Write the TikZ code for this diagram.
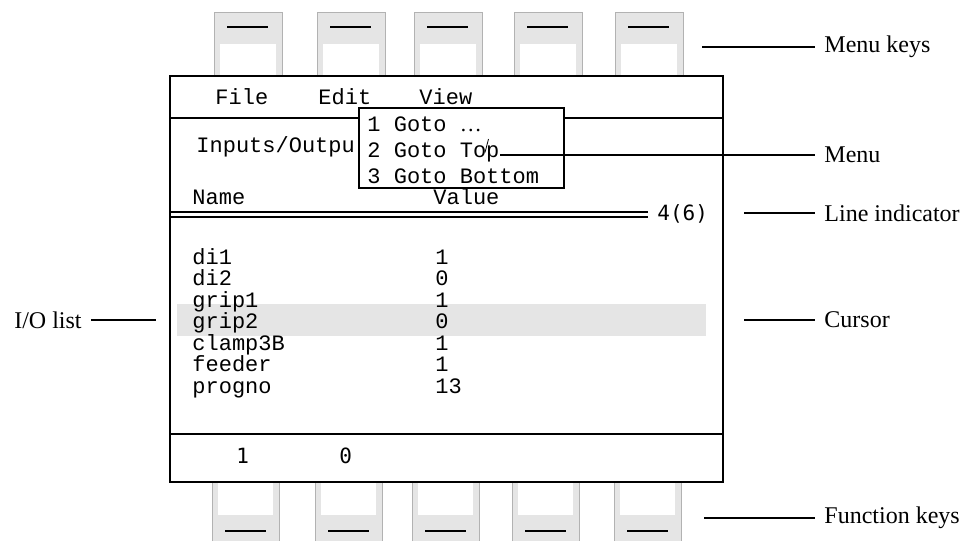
\documentclass[tikz,border=0pt]{standalone}
\usepackage{fontspec}
\setmainfont{Liberation Serif}
\setmonofont{Liberation Mono}
\newfontfamily\lcdfont{DejaVu Sans Mono}
\tikzset{
  scr/.style={font=\ttfamily\fontsize{11}{13}\selectfont, inner sep=0pt, anchor=base west},
  lcd/.style={font=\lcdfont\fontsize{10.5}{12}\selectfont, inner sep=0pt, anchor=base west},
  callout/.style={font=\fontsize{12}{14}\selectfont, inner xsep=4.5pt, inner ysep=0pt},
  keyface/.style={fill=gray!20, draw=gray!60, line width=0.5pt},
  keymark/.style={line width=1.3pt},
  lead/.style={line width=0.8pt}
}
\begin{document}
\begin{tikzpicture}[x=0.5pt,y=-0.5pt]
\useasboundingbox (0,0) rectangle (977,541);
% menu keys
\foreach \kx in {214,317,414,514,615}{
  \filldraw[keyface] (\kx,76) rectangle (\kx+68,12);
  \fill[white] (\kx+6,44) rectangle (\kx+62,76);
  \draw[keymark] (\kx+13,27) -- (\kx+54,27);
}
% function keys
\foreach \kx in {212,315,412,512,614}{
  \fill[gray!20] (\kx,482) rectangle (\kx+67,541);
  \draw[gray!60, line width=0.5pt] (\kx,541) -- (\kx,482) -- (\kx+67,482) -- (\kx+67,541);
  \fill[white] (\kx+6,482) rectangle (\kx+61,515);
  \draw[keymark] (\kx+13,531) -- (\kx+54,531);
}
% screen
\draw[line width=1.3pt, fill=white] (170,76) rectangle (723,482);
\fill[gray!20] (177,304) rectangle (706,336);
\draw[line width=1pt] (170,118) -- (723,118);
\draw[line width=1pt] (170,434) -- (723,434);
\node[scr] (file) at (215,104) {File};
\node[scr] (edit) at (318,104) {Edit};
\node[scr] (view) at (419,104) {View};
\node[scr] (title) at (196,152) {Inputs/Outpu};
\node[scr] (name) at (192,204) {Name};
\node[scr] (value) at (433,204) {Value};
\draw[line width=0.8pt] (170,212) -- (648,212);
\draw[line width=0.8pt] (170,217) -- (648,217);
\node[lcd] (lineno) at (657,220) {4(6)};
\foreach \nm/\val/\row in {di1/1/0,di2/0/1,grip1/1/2,grip2/0/3,clamp3B/1/4,feeder/1/5,progno/13/6}{
  \node[scr] (n\row) at (192,264+21.5*\row) {\nm};
  \node[scr] (v\row) at (435,264+21.5*\row) {\val};
}
\node[lcd] (fone) at (236,463) {1};
\node[lcd] (ftwo) at (339,463) {0};
% pull-down menu
\filldraw[fill=white, line width=1pt] (359,108) rectangle (564,188);
\node[scr] (goto) at (367,131) {1 Goto {\rmfamily\ldots}};
\node[scr] (gotop) at (367,157) {2 Goto Top};
\node[scr] (gobot) at (367,183) {3 Goto Bottom};
\draw[line width=0.4pt] (488.5,139) -- (485,152.5);
% callouts
\node[callout, anchor=west] (mkeys) at (815,47) {Menu keys};
\node[callout, anchor=west] (menu) at (815,155) {Menu};
\node[callout, anchor=west] (lineind) at (815,213) {Line indicator};
\node[callout, anchor=west] (cursor) at (815,320) {Cursor};
\node[callout, anchor=west] (fkeys) at (815,518) {Function keys};
\node[callout, anchor=east] (iolist) at (91,320) {I/O list};
\coordinate (mk) at (702,47);
\coordinate (ptr) at (500,155);
\coordinate (li) at (744,213);
\coordinate (cu) at (744,320);
\coordinate (fk) at (704,518);
\coordinate (io) at (156,320);
\draw[lead] (mk) -- (mkeys.west);
\draw[lead] (ptr) -- (menu.west);
\draw[lead] (li) -- (lineind.west);
\draw[lead] (cu) -- (cursor.west);
\draw[lead] (fk) -- (fkeys.west);
\draw[lead] (iolist.east) -- (io);
\end{tikzpicture}
\end{document}
